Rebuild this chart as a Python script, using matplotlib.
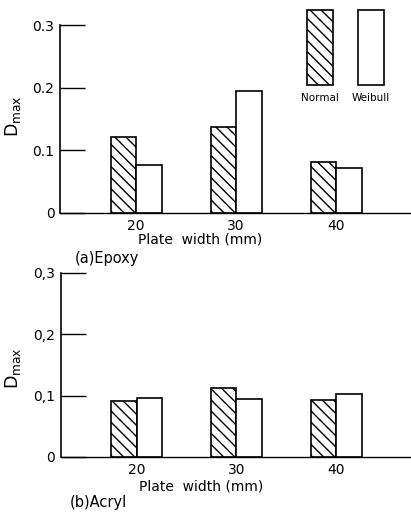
import matplotlib.pyplot as plt
from matplotlib.patches import Rectangle

plt.rcParams['font.family'] = 'DejaVu Sans'
plt.rcParams['hatch.linewidth'] = 1.0

widths = [20, 30, 40]
epoxy_normal = [0.121, 0.137, 0.081]
epoxy_weibull = [0.076, 0.195, 0.072]
acryl_normal = [0.091, 0.112, 0.093]
acryl_weibull = [0.096, 0.095, 0.102]
epoxy_ticklabels = ['0', '0.1', '0.2', '0.3']
acryl_ticklabels = ['0', '0,1', '0,2', '0,3']

fig = plt.figure(figsize=(4.11, 5.19), dpi=100)
ax1 = fig.add_axes([0.146, 0.5896, 0.854, 0.3622])
ax2 = fig.add_axes([0.148, 0.1195, 0.852, 0.3545])


def draw_panel(ax, normal, weibull, yticklabels, label_y):
    bw = 2.55
    ax.bar([w - bw / 2 for w in widths], normal, width=bw, color='white',
           edgecolor='black', hatch='\\\\\\', linewidth=1.2)
    ax.bar([w + bw / 2 for w in widths], weibull, width=bw, color='white',
           edgecolor='black', linewidth=1.2)
    ax.set_xlim(12.4, 47.5)
    ax.set_ylim(0, 0.3)
    ax.set_yticks([0, 0.1, 0.2, 0.3])
    ax.set_yticklabels(yticklabels, fontsize=10)
    ax.set_xticks(widths)
    ax.set_xticklabels([str(w) for w in widths], fontsize=10)
    ax.tick_params(axis='y', direction='in', length=18, width=1.0, pad=4)
    ax.tick_params(axis='x', length=0, pad=4)
    ax.spines['top'].set_visible(False)
    ax.spines['right'].set_visible(False)
    ax.spines['left'].set_linewidth(1.2)
    ax.spines['bottom'].set_linewidth(1.0)
    ax.set_xlabel('Plate  width (mm)', fontsize=10)
    ax.xaxis.set_label_coords(0.40, label_y)


draw_panel(ax1, epoxy_normal, epoxy_weibull, epoxy_ticklabels, -0.105)
draw_panel(ax2, acryl_normal, acryl_weibull, acryl_ticklabels, -0.125)

# legend boxes drawn in the upper-right of panel (a)
ax1.add_patch(Rectangle((0.7035, 0.68), 0.074, 0.4, transform=ax1.transAxes,
                        facecolor='white', edgecolor='black', hatch='\\\\\\',
                        linewidth=1.2, clip_on=False))
ax1.add_patch(Rectangle((0.849, 0.68), 0.074, 0.4, transform=ax1.transAxes,
                        facecolor='white', edgecolor='black',
                        linewidth=1.2, clip_on=False))
ax1.text(0.74, 0.61, 'Normal', transform=ax1.transAxes, ha='center',
         va='center', fontsize=7.5)
ax1.text(0.886, 0.61, 'Weibull', transform=ax1.transAxes, ha='center',
         va='center', fontsize=7.5)

fig.text(0.032, 0.776, r'D$_{\mathrm{max}}$', rotation=90, ha='center',
         va='center', fontsize=12.5)
fig.text(0.032, 0.290, r'D$_{\mathrm{max}}$', rotation=90, ha='center',
         va='center', fontsize=12.5)
fig.text(0.182, 1 - 258 / 519, '(a)Epoxy', fontsize=10.5, va='center')
fig.text(0.170, 1 - 503 / 519, '(b)Acryl', fontsize=10.5, va='center')

fig.savefig('out.png', dpi=100)
